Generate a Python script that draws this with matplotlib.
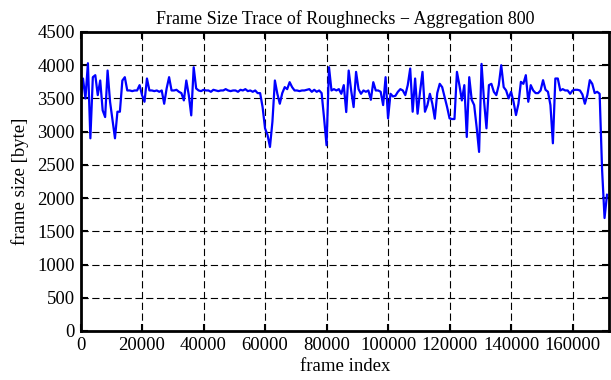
import numpy as np
import matplotlib
matplotlib.use('Agg')
import matplotlib.pyplot as plt

# frame size (bytes), one value per 800-frame aggregate
frame_size = [
    3450, 3800, 3500, 4030, 2900, 3820, 3850, 3550, 3770, 3320,
    3220, 3920, 3450, 3170, 2900, 3300, 3300, 3770, 3820, 3620,
    3620, 3610, 3620, 3620, 3700, 3550, 3450, 3800, 3620, 3620,
    3610, 3620, 3600, 3620, 3420, 3650, 3820, 3620, 3620, 3630,
    3600, 3580, 3470, 3770, 3550, 3245, 3970, 3650, 3620, 3610,
    3630, 3620, 3620, 3600, 3630, 3620, 3610, 3620, 3620, 3640,
    3620, 3610, 3620, 3620, 3600, 3630, 3620, 3640, 3610, 3620,
    3600, 3620, 3580, 3580, 3370, 3050, 2950, 2770, 3150, 3770,
    3570, 3420, 3580, 3670, 3640, 3745, 3670, 3620, 3620, 3610,
    3620, 3620, 3630, 3640, 3600, 3630, 3600, 3620, 3580, 3200,
    2795, 3970, 3620, 3640, 3620, 3640, 3570, 3700, 3295, 3920,
    3620, 3370, 3900, 3640, 3570, 3620, 3600, 3620, 3480, 3745,
    3620, 3620, 3600, 3400, 3820, 3200, 3570, 3530, 3540, 3600,
    3640, 3620, 3550, 3700, 3950, 3300, 3800, 3270, 3600, 3900,
    3300, 3400, 3570, 3420, 3195, 3580, 3720, 3670, 3520, 3370,
    3200, 3190, 3190, 3900, 3700, 3470, 3700, 2920, 3820, 3480,
    3400, 3070, 2695, 4020, 3470, 3050, 3700, 3720, 3600, 3550,
    3700, 4000, 3670, 3620, 3500, 3600, 3450, 3250, 3420, 3750,
    3720, 3850, 3450, 3700, 3620, 3580, 3580, 3620, 3775, 3630,
    3600, 3400, 2825, 3800, 3800, 3620, 3640, 3620, 3620, 3570,
    3620, 3630, 3630, 3620, 3560, 3420, 3550, 3775, 3720, 3580,
    3600, 3570, 2425, 1700, 2050,
]
aggregation = 800
frame_index = np.arange(len(frame_size)) * aggregation

xticks = list(range(0, 160001, 20000))
yticks = list(range(0, 4501, 500))

plt.rcParams['font.family'] = ['Liberation Serif', 'DejaVu Serif']
plt.rcParams['font.size'] = 13.5

fig = plt.figure(figsize=(6.11, 3.80), dpi=100)
ax = fig.add_axes([0.1318, 0.129, 0.8657, 0.7868])

ax.plot(frame_index, frame_size, color='#0000ff', lw=1.6)

ax.set_xlim(0, 172000)
ax.set_ylim(0, 4500)
ax.set_xticks(xticks)
ax.set_yticks(yticks)
ax.grid(True, color='black', ls=(0, (6.5, 3.2)), lw=0.8)
ax.tick_params(direction='in', length=5, width=1.5, top=True, right=True, pad=4)
for s in ax.spines.values():
    s.set_linewidth(2)

ax.set_title('Frame Size Trace of Roughnecks \u2212 Aggregation 800', pad=6, fontsize=13)
ax.set_xlabel('frame index', labelpad=3)
ax.set_ylabel('frame size [byte]', labelpad=6)

fig.savefig('out.png', dpi=100)
